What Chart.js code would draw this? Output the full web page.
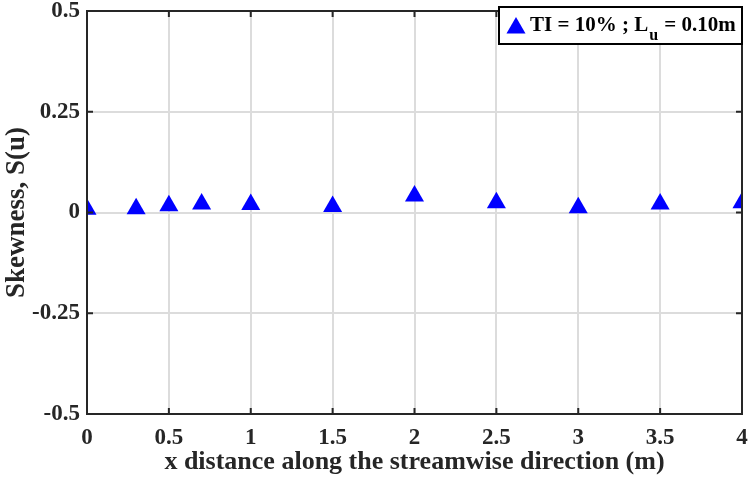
<!DOCTYPE html>
<html>
<head>
<meta charset="utf-8">
<script src="https://cdn.jsdelivr.net/npm/chart.js@4.4.1/dist/chart.umd.min.js"></script>
<style>
  html, body { margin: 0; padding: 0; background: #fff; }
  #wrap { width: 756px; height: 480px; }
</style>
</head>
<body>
<div id="wrap"><canvas id="chart" width="756" height="480"></canvas></div>
<script>
// ---------- Data ----------
const xPositions = [0, 0.3, 0.5, 0.7, 1, 1.5, 2, 2.5, 3, 3.5, 4];
const skewness = [0.008, 0.009, 0.017, 0.021, 0.020, 0.015, 0.041, 0.024, 0.012, 0.021, 0.024];
const xTicks = [0, 0.5, 1, 1.5, 2, 2.5, 3, 3.5, 4];
const yTicks = [-0.5, -0.25, 0, 0.25, 0.5];

const FONT = '"Liberation Serif", "Times New Roman", serif';
const BLUE = '#0000ff';

// ---------- Box, inward ticks and legend ----------
const framePlugin = {
  id: 'frame',
  afterDatasetsDraw(chart) {
    const { ctx, chartArea: a, scales } = chart;
    ctx.save();
    ctx.strokeStyle = '#262626';
    ctx.lineWidth = 2;
    ctx.strokeRect(a.left, a.top, a.right - a.left, a.bottom - a.top);

    ctx.beginPath();
    const tl = 6;
    xTicks.forEach(v => {
      const px = scales.x.getPixelForValue(v);
      ctx.moveTo(px, a.bottom); ctx.lineTo(px, a.bottom - tl);
      ctx.moveTo(px, a.top); ctx.lineTo(px, a.top + tl);
    });
    yTicks.forEach(v => {
      const py = scales.y.getPixelForValue(v);
      ctx.moveTo(a.left, py); ctx.lineTo(a.left + tl, py);
      ctx.moveTo(a.right, py); ctx.lineTo(a.right - tl, py);
    });
    ctx.stroke();

    // legend
    const lx = 499, ly = 7, lw = 243, lh = 37;
    ctx.fillStyle = '#fff';
    ctx.fillRect(lx, ly, lw, lh);
    ctx.strokeStyle = '#000';
    ctx.lineWidth = 2;
    ctx.strokeRect(lx, ly, lw, lh);

    const mx = 516, my = 28, r = 11;
    ctx.fillStyle = BLUE;
    ctx.beginPath();
    ctx.moveTo(mx, my - r);
    ctx.lineTo(mx + r * Math.sqrt(3) / 2, my + r / 2);
    ctx.lineTo(mx - r * Math.sqrt(3) / 2, my + r / 2);
    ctx.closePath();
    ctx.fill();

    ctx.fillStyle = '#000';
    ctx.textBaseline = 'alphabetic';
    ctx.textAlign = 'left';
    ctx.font = 'bold 21px ' + FONT;
    let tx = 530;
    const base = 31;
    const part1 = 'TI = 10% ; L';
    ctx.fillText(part1, tx, base);
    tx += ctx.measureText(part1).width;
    ctx.font = 'bold 16px ' + FONT;
    ctx.fillText('u', tx + 1, base + 9);
    tx += ctx.measureText('u').width + 2;
    ctx.font = 'bold 21px ' + FONT;
    ctx.fillText(' = 0.10m', tx, base);
    ctx.restore();
  }
};

// ---------- Chart ----------
const ctx = document.getElementById('chart').getContext('2d');
new Chart(ctx, {
  type: 'scatter',
  data: {
    datasets: [{
      label: 'TI = 10% ; Lu = 0.10m',
      data: xPositions.map((x, i) => ({ x, y: skewness[i] })),
      pointStyle: 'triangle',
      pointRadius: 11,
      pointHoverRadius: 11,
      backgroundColor: BLUE,
      borderColor: BLUE,
      borderWidth: 0
    }]
  },
  plugins: [framePlugin],
  options: {
    responsive: false,
    animation: false,
    layout: { padding: { left: 0, right: 14, top: 6, bottom: 0 } },
    plugins: {
      legend: { display: false },
      tooltip: { enabled: false }
    },
    scales: {
      x: {
        type: 'linear',
        min: 0,
        max: 4,
        afterBuildTicks: s => { s.ticks = xTicks.map(v => ({ value: v })); },
        afterFit: s => { s.height = 66; s.paddingLeft = 0; s.paddingRight = 0; },
        ticks: {
          color: '#262626',
          padding: 10,
          callback: v => String(v),
          font: { family: FONT, size: 23, weight: 'bold' }
        },
        grid: { color: '#dcdcdc', lineWidth: 2, drawTicks: false },
        border: { display: false },
        title: {
          display: true,
          text: 'x distance along the streamwise direction (m)',
          color: '#262626',
          padding: { top: 0, bottom: 2 },
          font: { family: FONT, size: 26, weight: 'bold' }
        }
      },
      y: {
        min: -0.5,
        max: 0.5,
        afterBuildTicks: s => { s.ticks = yTicks.map(v => ({ value: v })); },
        afterFit: s => { s.width = 87; s.paddingTop = 0; s.paddingBottom = 0; },
        ticks: {
          color: '#262626',
          padding: 7,
          callback: v => String(v),
          font: { family: FONT, size: 23, weight: 'bold' }
        },
        grid: { color: '#dcdcdc', lineWidth: 2, drawTicks: false },
        border: { display: false },
        title: {
          display: true,
          text: 'Skewness, S(u)',
          color: '#262626',
          padding: { top: 1, bottom: 0 },
          font: { family: FONT, size: 27, weight: 'bold' }
        }
      }
    }
  }
});
</script>
</body>
</html>
